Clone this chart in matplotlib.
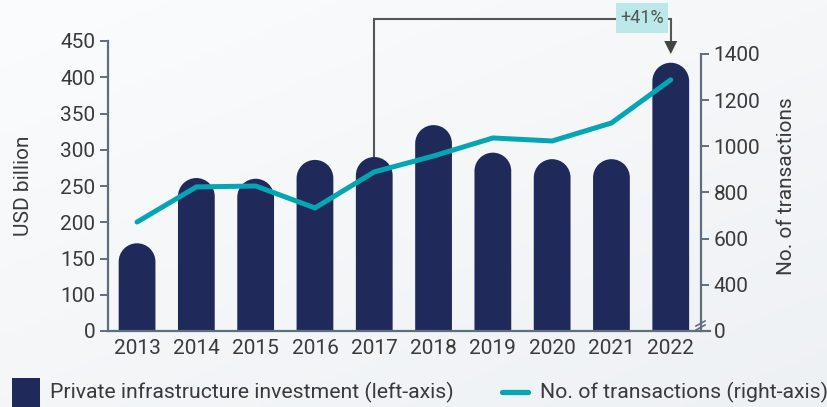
import numpy as np
import matplotlib
matplotlib.use('Agg')
import matplotlib.pyplot as plt
from matplotlib.path import Path
from matplotlib.patches import PathPatch, Rectangle, Polygon
from matplotlib.lines import Line2D

# ---------------- data ----------------
years = ['2013', '2014', '2015', '2016', '2017', '2018', '2019', '2020', '2021', '2022']
investment = [171, 261, 260, 286, 290, 334, 296, 287, 287, 420]          # USD billion (left)
transactions = [672, 824, 828, 733, 889, 958, 1036, 1023, 1101, 1288]     # count (right)
left_ticks = [50, 100, 150, 200, 250, 300, 350, 400, 450]
left_labels = ['0', '100', '150', '200', '250', '300', '350', '400', '450']
right_ticks = [200, 400, 600, 800, 1000, 1200, 1400]
right_labels = ['0', '400', '600', '800', '1000', '1200', '1400']
annot_text = '+41%'
legend_bar = 'Private infrastructure investment (left-axis)'
legend_line = 'No. of transactions (right-axis)'

# ---------------- style ----------------
plt.rcParams['font.family'] = ['Roboto', 'DejaVu Sans']
BAR = '#1f2a5a'
LINE = '#05a6b4'
SPINE = '#5f6e7d'
TXT = '#3a3a3a'

W, H = 828, 407
fig = plt.figure(figsize=(W / 100, H / 100), dpi=100)

# background gradient
bg = fig.add_axes([0, 0, 1, 1], zorder=-10)
xx, yy = np.meshgrid(np.linspace(0, 1, 200), np.linspace(0, 1, 100))
t = np.clip(0.45 * xx + 0.55 * yy, 0, 1)[..., None]
c0 = np.array([251, 252, 253]) / 255
c1 = np.array([238, 241, 244]) / 255
bg.imshow(c0 * (1 - t) + c1 * t, aspect='auto', extent=[0, 1, 0, 1], origin='upper')
bg.axis('off')

ax = fig.add_axes([108 / W, (H - 331) / H, (701 - 108) / W, 290 / H])
ax.patch.set_alpha(0)
x = np.arange(len(years))
ax.set_xlim(-0.49, 9.51)
ax.set_ylim(50, 450)

# rounded-top bars
bw = 0.62
fig.canvas.draw()
bbox = ax.get_window_extent()
px_x = bbox.width / 10.0
px_y = bbox.height / 400.0
rx = bw / 2
ry = rx * px_x / px_y
arc = Path.arc(0, 180)
for xi, v in zip(x, investment):
    cx = xi
    top = v
    verts = [(cx + rx, 50), (cx + rx, top - ry)]
    codes = [Path.MOVETO, Path.LINETO]
    av = arc.vertices * np.array([rx, ry]) + np.array([cx, top - ry])
    ac = list(arc.codes)
    ac[0] = Path.LINETO
    verts += [tuple(p) for p in av]
    codes += ac
    verts += [(cx - rx, 50), (cx + rx, 50)]
    codes += [Path.LINETO, Path.CLOSEPOLY]
    ax.add_patch(PathPatch(Path(verts, codes), fc=BAR, ec='none', zorder=2))

ax.set_xticks(x)
ax.set_xticklabels(years)
ax.set_yticks(left_ticks)
ax.set_yticklabels(left_labels)
ax.tick_params(axis='x', length=0, pad=6, labelsize=15, labelcolor=TXT)
ax.tick_params(axis='y', length=6, width=1.4, color=SPINE, pad=3, labelsize=15, labelcolor=TXT)
for s in ['top', 'right']:
    ax.spines[s].set_visible(False)
for s in ['left', 'bottom']:
    ax.spines[s].set_color(SPINE)
    ax.spines[s].set_linewidth(1.6)
ax.set_ylabel('USD billion', fontsize=15, color=TXT, labelpad=20)

# right axis
ax2 = ax.twinx()
ax2.set_ylim(200, 1456)
ax2.plot(x, transactions, color=LINE, lw=3.6, solid_capstyle='round', solid_joinstyle='miter', zorder=3)
ax2.set_yticks(right_ticks)
ax2.set_yticklabels(right_labels)
ax2.tick_params(axis='y', length=6, width=1.4, color=SPINE, pad=3, labelsize=15, labelcolor=TXT)
for s in ['top', 'left', 'bottom']:
    ax2.spines[s].set_visible(False)
ax2.spines['right'].set_color(SPINE)
ax2.spines['right'].set_linewidth(1.6)
ax2.spines['right'].set_bounds(200, 1400)
ax2.set_ylabel('No. of transactions', fontsize=15, color=TXT, labelpad=12)

# extend bottom axis slightly past right spine
ax.add_line(Line2D([9.51, 9.51 + 9 / px_x], [50, 50], color=SPINE, lw=1.6, clip_on=False))
# break marker on right axis
tr = fig.transFigure
def fp(px, py):
    return px / W, (H - py) / H
for dy in (0, 4):
    (a1, b1), (a2, b2) = fp(696, 328 + dy - 2), fp(705, 323 + dy - 2)
    fig.add_artist(Line2D([a1, a2], [b1, b2], color=SPINE, lw=1.2, transform=tr))

# annotation
ax.plot([4, 4, 9, 9], [292, 480, 480, 448], color='#555555', lw=1.5, clip_on=False, zorder=4,
        solid_joinstyle='miter')
# arrow head (triangle, ~12 px wide, ~13 px tall)
hw = 6.5 / px_x
ax.add_patch(Polygon([(9 - hw, 450), (9 + hw, 450), (9, 432)], closed=True, fc='#444444',
                     ec='none', clip_on=False, zorder=5))
ax.add_patch(Rectangle((8.08, 461), 0.875, 41, fc='#bde8ea', ec='none', clip_on=False, zorder=5))
ax.text(8.52, 481.5, annot_text, ha='center', va='center', fontsize=13, color='#555555', zorder=6)

# legend (manual)
fig.add_artist(Rectangle((12 / W, 0), 28 / W, 29 / H, transform=tr, fc=BAR, ec='none'))
fig.text(50 / W, (H - 392) / H, legend_bar, fontsize=15.3, color=TXT, va='center', ha='left')
fig.add_artist(Line2D([502 / W, 528 / W], [(H - 392) / H] * 2, color=LINE, lw=3.8,
                      solid_capstyle='round', transform=tr))
fig.text(540 / W, (H - 392) / H, legend_line, fontsize=15.3, color=TXT, va='center', ha='left')

fig.savefig('out.png', dpi=100)
